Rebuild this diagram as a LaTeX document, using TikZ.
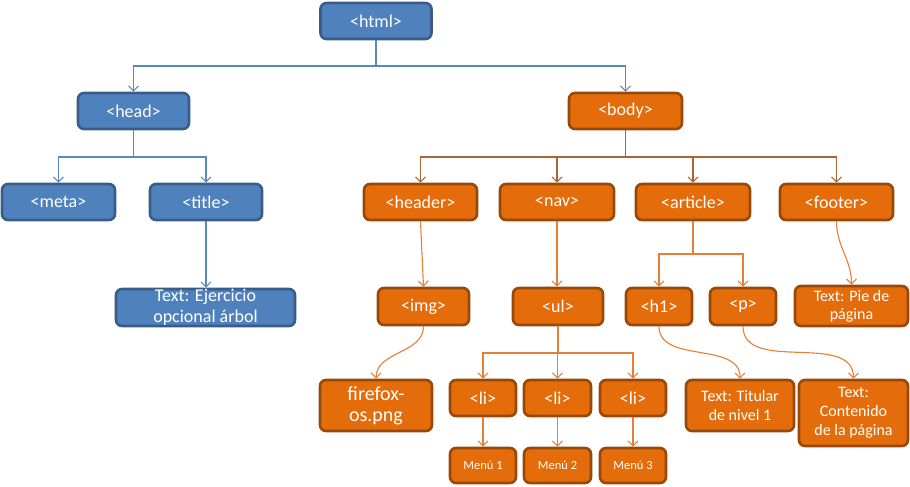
\documentclass[tikz,border=0pt]{standalone}
\usepackage{fontspec}
\setmainfont{Carlito}
\usetikzlibrary{arrows.meta}
\definecolor{cBFill}{HTML}{4F81BD}
\definecolor{cBBorder}{HTML}{385D8A}
\definecolor{cOFill}{HTML}{E46C0A}
\definecolor{cOBorder}{HTML}{984807}
\definecolor{cBLine}{HTML}{5B87C0}
\definecolor{cOLine}{HTML}{E47F35}
\definecolor{cBrLine}{HTML}{B06232}
\tikzset{
  box/.style={draw, line width=2.6pt, rounded corners=6pt, text=white, align=center, inner sep=0pt, font=\fontsize{18}{20}\selectfont},
  bbox/.style={box, draw=cBBorder, fill=cBFill},
  obox/.style={box, draw=cOBorder, fill=cOFill},
  tip/.style={-{Straight Barb[length=5pt,width=10pt]}},
  blink/.style={draw=cBLine, line width=1.1pt, tip},
  olink/.style={draw=cOLine, line width=1.1pt, tip},
  brlink/.style={draw=cBrLine, line width=1.1pt, tip},
  sz/.style n args={2}{minimum width=#1pt, minimum height=#2pt}
}
\begin{document}
\begin{tikzpicture}[x=1pt,y=-1pt]
\useasboundingbox (0,0) rectangle (910,487);
% blue nodes
\node[bbox, sz={111}{36}] (html) at (376,21) {<html>};
\node[bbox, sz={111}{36}] (head) at (133.5,111) {<head>};
\node[bbox, sz={113}{36}] (meta) at (58.5,202) {<meta>};
\node[bbox, sz={112}{36}] (title) at (206,202) {<title>};
\node[bbox, sz={179}{37}] (ejer) at (205.5,307.5) {Text: Ejercicio\\[1pt]opcional árbol};
% orange nodes
\node[obox, sz={113}{36}] (body) at (625.5,111) {<body>};
\node[obox, sz={113}{36}] (header) at (420.5,202) {<header>};
\node[obox, sz={114}{36}] (nav) at (557,202) {<nav>};
\node[obox, sz={114}{36}] (article) at (693,202) {<article>};
\node[obox, sz={113}{36}] (footer) at (836.5,202) {<footer>};
\node[obox, sz={91}{37}] (img) at (423.5,306.5) {<img>};
\node[obox, sz={90}{37}] (ul) at (558,306.5) {<ul>};
\node[obox, sz={66}{37}] (h1) at (659,306.5) {<h1>};
\node[obox, sz={66}{37}] (p) at (743,306.5) {<p>};
\node[obox, sz={113}{40}, font=\fontsize{16}{18}\selectfont] (pie) at (851.5,306) {Text: Pie de\\página};
\node[obox, sz={112}{51}, font=\fontsize{20}{21}\selectfont] (ff) at (376,405.5) {firefox-\\os.png};
\node[obox, sz={66}{36}] (li1) at (483,398) {<li>};
\node[obox, sz={67}{36}] (li2) at (557.5,398) {<li>};
\node[obox, sz={66}{36}] (li3) at (633,398) {<li>};
\node[obox, sz={66}{35}, font=\fontsize{12.5}{14}\selectfont] (m1) at (483,465.5) {Menú 1};
\node[obox, sz={67}{35}, font=\fontsize{12.5}{14}\selectfont] (m2) at (557.5,465.5) {Menú 2};
\node[obox, sz={66}{35}, font=\fontsize{12.5}{14}\selectfont] (m3) at (633,465.5) {Menú 3};
\node[obox, sz={108}{51}, font=\fontsize{16}{19}\selectfont] (tit) at (740,405.5) {Text: Titular\\de nivel 1};
\node[obox, sz={109}{66}, font=\fontsize{16}{19}\selectfont] (cont) at (853.5,413) {Text:\\Contenido\\de la página};
% branch coordinates
\coordinate (jhtml) at (376,66);
\coordinate (jhead) at (133.5,157);
\coordinate (jbody) at (625.5,157);
\coordinate (jart) at (693,254);
\coordinate (jul) at (558,353);
% blue connectors
\draw[blink] (html.south) -- (jhtml) -| (head.north);
\draw[blink] (html.south) -- (jhtml) -| (body.north);
\draw[blink] (head.south) -- (jhead) -| (meta.north);
\draw[blink] (head.south) -- (jhead) -| (title.north);
\draw[blink] (title.south) -- (ejer.north -| title.south);
% orange connectors
\draw[brlink] (body.south) -- (jbody) -| (header.north);
\draw[brlink] (body.south) -- (jbody) -| (nav.north);
\draw[brlink] (body.south) -- (jbody) -| (article.north);
\draw[brlink] (body.south) -- (jbody) -| (footer.north);
\draw[olink] (header.south) -- (img.north);
\draw[olink] (nav.south) -- (ul.north -| nav.south);
\draw[olink] (article.south) -- (jart) -| (h1.north);
\draw[olink] (article.south) -- (jart) -| (p.north);
\draw[olink] (ul.south) -- (jul) -| (li1.north);
\draw[olink] (ul.south) -- (jul) -| (li2.north);
\draw[olink] (ul.south) -- (jul) -| (li3.north);
\draw[olink] (li1.south) -- (m1.north);
\draw[olink] (li2.south) -- (m2.north);
\draw[olink] (li3.south) -- (m3.north);
\draw[olink] (footer.south) to[out=-90,in=90] (pie.north);
\draw[olink] (img.south) to[out=-90,in=90] (ff.north);
\draw[olink] (h1.south) to[out=-90,in=90] (tit.north);
\draw[olink] (p.south) to[out=-90,in=90] (cont.north);
\end{tikzpicture}
\end{document}
